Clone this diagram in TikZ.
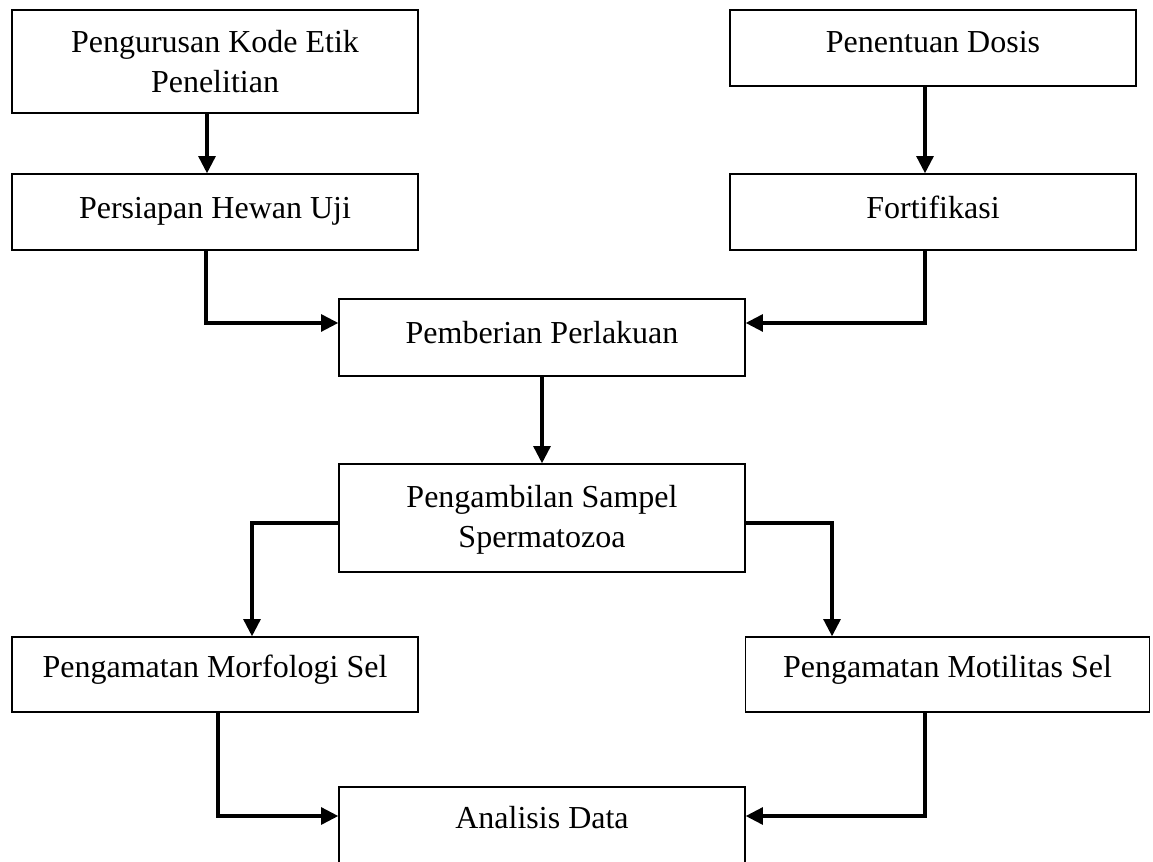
\documentclass[tikz,border=0pt]{standalone}
\usepackage{fontspec}
\setmainfont{Liberation Serif}
\usetikzlibrary{arrows.meta,calc}
\begin{document}
\begin{tikzpicture}[x=0.75pt,y=-0.75pt,
  box/.style={draw=black,line width=0.9pt,inner sep=0pt,minimum width=304.5pt},
  lbl/.style={anchor=base,inner sep=0pt,font=\fontsize{24pt}{30pt}\selectfont,align=center},
  arr/.style={line width=2.9pt,-{Triangle[width=12.5pt,length=13pt]}}]
\useasboundingbox (0,0) rectangle (1153,861);
\clip (0,0) rectangle (1153,861);
% boxes
\node[box,minimum height=77.25pt] (kode) at (215,61.5) {};
\node[box,minimum height=57pt] (dosis) at (933,48) {};
\node[box,minimum height=57pt] (hewan) at (215,212) {};
\node[box,minimum height=57pt] (fort) at (933,212) {};
\node[box,minimum height=57.75pt] (beri) at (542,337.5) {};
\node[box,minimum height=81pt] (sampel) at (542,518) {};
\node[box,minimum height=56.25pt] (morf) at (215,674.5) {};
\node[box,minimum height=56.25pt,minimum width=303pt] (motil) at (947.5,674.5) {};
\node[box,minimum height=90pt] (data) at (542,847) {};
% texts
\node[lbl] (tkode1) at (215,52) {Pengurusan Kode Etik};
\node[lbl] (tkode2) at (215,92) {Penelitian};
\node[lbl] (tdosis) at (933,52) {Penentuan Dosis};
\node[lbl] (thewan) at (215,218) {Persiapan Hewan Uji};
\node[lbl] (tfort) at (933,218) {Fortifikasi};
\node[lbl] (tberi) at (542,343) {Pemberian Perlakuan};
\node[lbl] (tsampel1) at (542,507) {Pengambilan Sampel};
\node[lbl] (tsampel2) at (542,547) {Spermatozoa};
\node[lbl] (tmorf) at (215,677) {Pengamatan Morfologi Sel};
\node[lbl] (tmotil) at (947.5,677) {Pengamatan Motilitas Sel};
\node[lbl] (tdata) at (542,828) {Analisis Data};
% connectors
\draw[arr] ([xshift=-6pt]kode.south) -- ([xshift=-6pt]hewan.north);
\draw[arr] ([xshift=-6pt]dosis.south) -- ([xshift=-6pt]fort.north);
\draw[arr] ([xshift=-6.75pt]hewan.south) |- ([yshift=10.9pt]beri.west);
\draw[arr] ([xshift=-6pt]fort.south) |- ([yshift=10.9pt]beri.east);
\draw[arr] (beri.south) -- (sampel.north);
\draw[arr] ([yshift=-3.75pt]sampel.west) -| ([xshift=27.75pt]morf.north);
\draw[arr] ([yshift=-3.75pt]sampel.east) -| ([xshift=-86.6pt]motil.north);
\draw[arr] ([xshift=2.25pt]morf.south) |- ([yshift=23.25pt]data.west);
\draw[arr] ([xshift=-16.9pt]motil.south) |- ([yshift=23.25pt]data.east);
\end{tikzpicture}
\end{document}
